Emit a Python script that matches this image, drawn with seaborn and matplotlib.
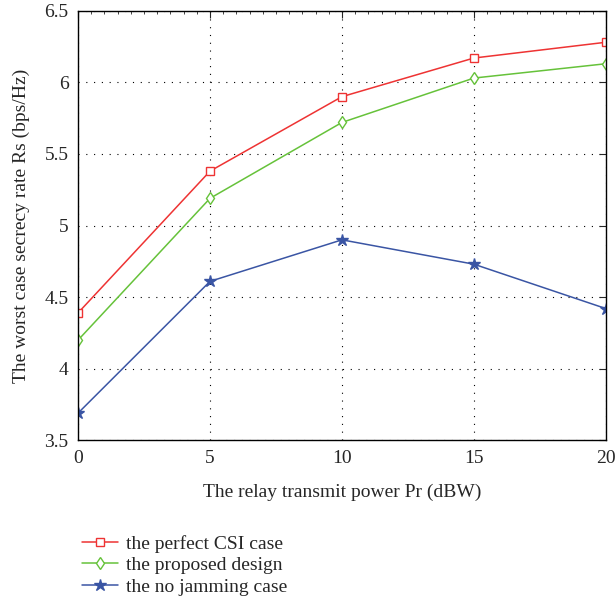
import numpy as np
import pandas as pd
import matplotlib
matplotlib.use("Agg")
import matplotlib.pyplot as plt
from matplotlib.ticker import MultipleLocator, NullLocator
import seaborn as sns

# Data
power = [0, 5, 10, 15, 20]
perfect_csi = [4.39, 5.38, 5.90, 6.17, 6.28]
proposed = [4.20, 5.19, 5.72, 6.03, 6.13]
no_jamming = [3.69, 4.61, 4.90, 4.73, 4.42]
labels = ["the perfect CSI case", "the proposed design", "the no jamming case"]

df = pd.DataFrame({
    "Pr": power * 3,
    "Rs": perfect_csi + proposed + no_jamming,
    "case": [labels[0]] * 5 + [labels[1]] * 5 + [labels[2]] * 5,
})

sns.set_style("white")
plt.rcParams['font.family'] = ['Liberation Serif', 'DejaVu Serif']

colors = {labels[0]: "#ee3333", labels[1]: "#66c23a", labels[2]: "#3a55a4"}
markers = {labels[0]: "s", labels[1]: "d", labels[2]: "*"}

fig = plt.figure(figsize=(6.15, 5.99), dpi=100)
ax = fig.add_axes([0.127, 0.265, 0.858, 0.717])

for lab in labels:
    sub = df[df["case"] == lab]
    sns.lineplot(data=sub, x="Pr", y="Rs", ax=ax, color=colors[lab],
                 marker=markers[lab], label=lab, linewidth=1.1,
                 markersize=9 if lab == labels[2] else 6,
                 markerfacecolor="white" if lab != labels[2] else colors[lab],
                 markeredgecolor=colors[lab], markeredgewidth=1.0)

ax.set_xlim(0, 20)
ax.set_ylim(3.5, 6.5)
ax.xaxis.set_major_locator(MultipleLocator(5))
ax.xaxis.set_minor_locator(MultipleLocator(0.5))
ax.set_yticks([3.5, 4, 4.5, 5, 5.5, 6, 6.5])
ax.set_yticklabels(["3.5", "4", "4.5", "5", "5.5", "6", "6.5"])
ax.yaxis.set_minor_locator(NullLocator())
ax.grid(True, which="major", linestyle=(0, (1, 6)), color="black", linewidth=0.8)
ax.tick_params(which="both", direction="in", top=True, right=True, labelsize=14)
ax.tick_params(which="major", length=5, width=0.8, pad=7)
ax.tick_params(which="minor", length=2.5, width=0.6)
for s in ax.spines.values():
    s.set_color("black")
    s.set_linewidth(1.0)

ax.set_xlabel("The relay transmit power Pr (dBW)", fontsize=14, labelpad=12)
ax.set_ylabel("The worst case secrecy rate Rs (bps/Hz)", fontsize=14, labelpad=10)

handles, labs = ax.get_legend_handles_labels()
ax.get_legend().remove()
fig.legend(handles, labs, loc="upper left", bbox_to_anchor=(0.12, 0.12),
           frameon=False, fontsize=14, handlelength=1.85, labelspacing=0.2,
           handletextpad=0.45, borderaxespad=0)

fig.savefig("out.png", dpi=100)
